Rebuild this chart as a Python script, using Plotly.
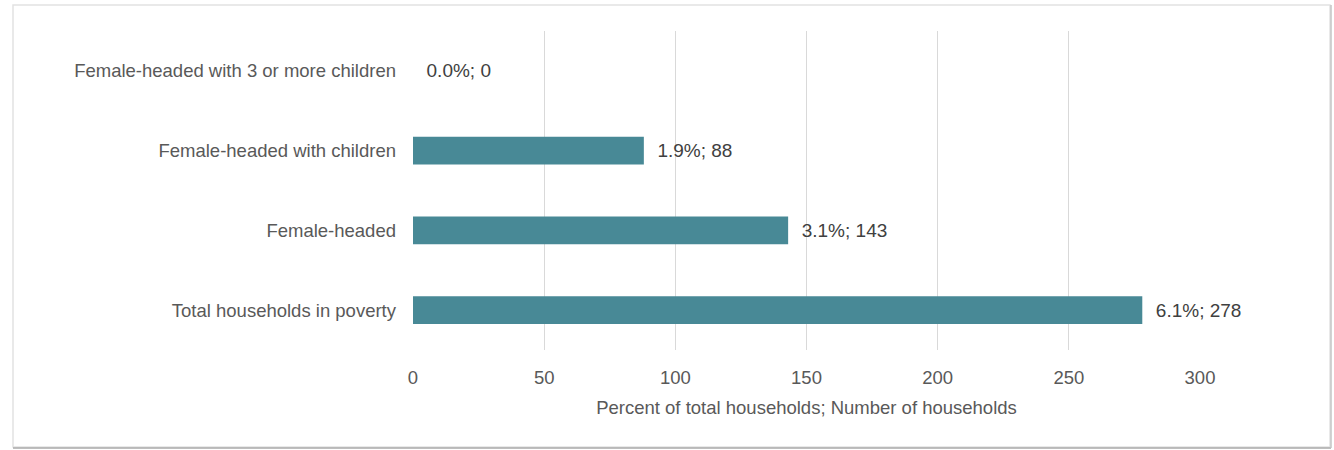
import plotly.graph_objects as go

categories = ["Total households in poverty", "Female-headed",
              "Female-headed with children", "Female-headed with 3 or more children"]
counts = [278, 143, 88, 0]
percents = ["6.1%", "3.1%", "1.9%", "0.0%"]
tick_vals = [0, 50, 100, 150, 200, 250, 300]

labels = [f"  {p}; {c}" for p, c in zip(percents, counts)]

W, H = 1334, 450
ML, MR, MT, MB = 413, 134, 31, 100
pw = W - ML - MR
ph = H - MT - MB

def px_x(x):
    return (x - ML) / pw

def px_y(y):
    return 1 - (y - MT) / ph

FONT = "Liberation Sans, Arial, sans-serif"

fig = go.Figure(go.Bar(
    y=categories, x=counts, orientation="h",
    marker=dict(color="#488996", line=dict(width=0)),
    width=0.35,
    text=labels, textposition="outside", cliponaxis=False,
    textfont=dict(family=FONT, size=19, color="#404040"),
))

fig.update_layout(
    width=W, height=H,
    margin=dict(l=ML, r=MR, t=MT, b=MB),
    paper_bgcolor="white", plot_bgcolor="white",
    showlegend=False,
    font=dict(family=FONT, size=18, color="#595959"),
    xaxis=dict(range=[0, 300], tickvals=tick_vals, showgrid=True, gridcolor="#d9d9d9",
               gridwidth=1, zeroline=False, showline=False, ticks="",
               ticklabelstandoff=14,
               tickfont=dict(size=18.5, color="#595959"),
               title=dict(text="Percent of total households; Number of households",
                          font=dict(size=18.5, color="#595959"), standoff=14)),
    yaxis=dict(showgrid=False, zeroline=False, showline=False, ticks="",
               ticklabelstandoff=16,
               tickfont=dict(size=18.5, color="#595959")),
    shapes=[
        dict(type="rect", xref="paper", yref="paper",
             x0=px_x(13), x1=px_x(1330), y0=px_y(447), y1=px_y(5),
             line=dict(color="#e2e2e2", width=1.5), layer="below"),
        dict(type="line", xref="paper", yref="paper",
             x0=px_x(13), x1=px_x(1331), y0=px_y(448), y1=px_y(448),
             line=dict(color="#a8a8a8", width=1.5)),
        dict(type="line", xref="paper", yref="paper",
             x0=px_x(1331), x1=px_x(1331), y0=px_y(448), y1=px_y(5),
             line=dict(color="#c4c4c4", width=1.5)),
    ],
)

fig.write_html("out.html")
